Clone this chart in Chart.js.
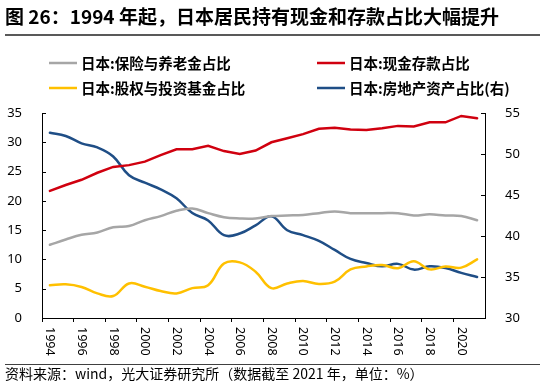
<!DOCTYPE html>
<html>
<head>
<meta charset="utf-8">
<script src="https://cdn.jsdelivr.net/npm/chart.js@4"></script>
<style>
  html, body { margin: 0; padding: 0; background: #fff; }
  canvas { display: block; }
</style>
</head>
<body>
<canvas id="chart" width="550" height="384"></canvas>
<script>
const years = ["1994", "1995", "1996", "1997", "1998", "1999", "2000", "2001", "2002", "2003",
    "2004", "2005", "2006", "2007", "2008", "2009", "2010", "2011", "2012", "2013",
    "2014", "2015", "2016", "2017", "2018", "2019", "2020", "2021"];

// 保险与养老金 (left)
const insurance = [12.5, 13.4, 14.2, 14.6, 15.5, 15.7, 16.7, 17.4, 18.3, 18.7,
    17.9, 17.2, 17.0, 17.0, 17.4, 17.5, 17.6, 17.9, 18.2, 17.9,
    17.9, 17.9, 17.9, 17.5, 17.7, 17.5, 17.4, 16.7];

// 现金存款 (left)
const cash = [21.7, 22.7, 23.6, 24.8, 25.8, 26.1, 26.7, 27.8, 28.8, 28.8,
    29.4, 28.5, 28.0, 28.6, 30.0, 30.7, 31.4, 32.3, 32.5, 32.2,
    32.1, 32.4, 32.8, 32.7, 33.4, 33.4, 34.5, 34.1];

// 股权与投资基金 (left)
const equity = [5.6, 5.75, 5.3, 4.2, 3.75, 5.9, 5.35, 4.6, 4.2, 5.1,
    5.6, 9.3, 9.5, 7.9, 5.1, 5.9, 6.3, 5.8, 6.2, 8.3,
    8.8, 9.05, 8.5, 9.7, 8.3, 8.8, 8.6, 10.0];

// 房地产资产 (right)
const realEstate = [52.6, 52.2, 51.3, 50.8, 49.7, 47.4, 46.5, 45.7, 44.6, 42.8,
    41.9, 40.1, 40.3, 41.3, 42.4, 40.7, 40.1, 39.4, 38.3, 37.2,
    36.7, 36.3, 36.6, 35.9, 36.3, 36.1, 35.5, 35.0];

const leftTicks = [0, 5, 10, 15, 20, 25, 30, 35];
const rightTicks = [30, 35, 40, 45, 50, 55];

const titleText = "图 26：1994 年起，日本居民持有现金和存款占比大幅提升";
const sourceText = "资料来源：wind，光大证券研究所（数据截至 2021 年，单位：%）";

const GREY = "#A6A6A6";
const RED = "#D0000F";
const YELLOW = "#FFC000";
const BLUE = "#1F4E86";

const cjk = '"Noto Sans CJK SC", "Noto Sans", sans-serif';
const num = '"Noto Sans", "Liberation Sans", sans-serif';

// title, legend, source, x labels and inner y ticks
const decor = {
    id: "decor",
    afterDraw(chart) {
        const ctx = chart.ctx;
        const area = chart.chartArea;
        ctx.save();

        // title
        ctx.fillStyle = "#000";
        ctx.font = "bold 19px " + cjk;
        ctx.textBaseline = "middle";
        ctx.textAlign = "left";
        ctx.fillText(titleText, 5, 17);

        ctx.strokeStyle = "#595959";
        ctx.lineWidth = 2;
        ctx.beginPath();
        ctx.moveTo(5, 35);
        ctx.lineTo(540, 35);
        ctx.stroke();

        // legend
        const items = [
            { ds: 0, x: 49, y: 63 },
            { ds: 1, x: 317, y: 63 },
            { ds: 2, x: 49, y: 88 },
            { ds: 3, x: 317, y: 88 }
        ];
        ctx.font = "bold 14.5px " + cjk;
        items.forEach(it => {
            const ds = chart.data.datasets[it.ds];
            ctx.strokeStyle = ds.borderColor;
            ctx.lineWidth = 2.5;
            ctx.beginPath();
            ctx.moveTo(it.x, it.y);
            ctx.lineTo(it.x + 28, it.y);
            ctx.stroke();
            ctx.fillStyle = "#000";
            ctx.fillText(ds.label, it.x + 32, it.y);
        });

        // x labels, rotated to read top to bottom
        const xs = chart.scales.x;
        ctx.font = "12.5px " + num;
        ctx.fillStyle = "#000";
        years.forEach((lab, i) => {
            if (i % 2 !== 0) return;
            ctx.save();
            ctx.translate(xs.getPixelForTick(i), area.bottom + 9);
            ctx.rotate(Math.PI / 2);
            ctx.textAlign = "left";
            ctx.textBaseline = "middle";
            ctx.fillText(lab, 0, 0);
            ctx.restore();
        });

        // y tick marks pointing inward
        ctx.strokeStyle = "#000";
        ctx.lineWidth = 1;
        const yl = chart.scales.y;
        leftTicks.forEach(v => {
            const py = Math.round(yl.getPixelForValue(v)) + 0.5;
            ctx.beginPath();
            ctx.moveTo(area.left, py);
            ctx.lineTo(area.left + 4, py);
            ctx.stroke();
        });
        const yr = chart.scales.y2;
        rightTicks.forEach(v => {
            const py = Math.round(yr.getPixelForValue(v)) + 0.5;
            ctx.beginPath();
            ctx.moveTo(area.right, py);
            ctx.lineTo(area.right - 4, py);
            ctx.stroke();
        });

        // source
        ctx.strokeStyle = "#404040";
        ctx.lineWidth = 1;
        ctx.beginPath();
        ctx.moveTo(5, 364.5);
        ctx.lineTo(540, 364.5);
        ctx.stroke();
        ctx.font = "14px " + cjk;
        ctx.fillStyle = "#000";
        ctx.textAlign = "left";
        ctx.textBaseline = "middle";
        ctx.fillText(sourceText, 5, 374);

        ctx.restore();
    }
};

new Chart(document.getElementById("chart"), {
    type: "line",
    data: {
        labels: years,
        datasets: [
            { label: "日本:保险与养老金占比", data: insurance, borderColor: GREY, yAxisID: "y", tension: 0.4 },
            { label: "日本:现金存款占比", data: cash, borderColor: RED, yAxisID: "y", tension: 0 },
            { label: "日本:股权与投资基金占比", data: equity, borderColor: YELLOW, yAxisID: "y", tension: 0.4 },
            { label: "日本:房地产资产占比(右)", data: realEstate, borderColor: BLUE, yAxisID: "y2", tension: 0.4 }
        ]
    },
    options: {
        responsive: false,
        animation: false,
        layout: { padding: { top: 113, left: 0, right: 0, bottom: 0 } },
        elements: {
            point: { radius: 0 },
            line: { borderWidth: 2.5, fill: false, borderCapStyle: "round" }
        },
        plugins: {
            legend: { display: false },
            tooltip: { enabled: false },
            title: { display: false }
        },
        scales: {
            x: {
                offset: true,
                grid: {
                    offset: true,
                    drawOnChartArea: false,
                    drawTicks: true,
                    tickLength: 4,
                    tickColor: c => (c.index !== undefined && c.index % 2 === 0) ? "#000" : "rgba(0,0,0,0)"
                },
                border: { display: true, color: "#000", width: 1 },
                ticks: { display: false, autoSkip: false },
                afterFit: s => { s.height = 66; }
            },
            y: {
                position: "left",
                min: 0,
                max: 35,
                grid: { display: false },
                border: { display: true, color: "#000", width: 1 },
                ticks: {
                    stepSize: 5,
                    padding: 12,
                    color: "#000",
                    font: { family: num, size: 13 }
                },
                afterFit: s => { s.width = 42; }
            },
            y2: {
                position: "right",
                min: 30,
                max: 55,
                grid: { display: false },
                border: { display: true, color: "#000", width: 1 },
                ticks: {
                    stepSize: 5,
                    padding: 12,
                    color: "#000",
                    font: { family: num, size: 13 }
                },
                afterFit: s => { s.width = 65; }
            }
        }
    },
    plugins: [decor]
});
</script>
</body>
</html>
